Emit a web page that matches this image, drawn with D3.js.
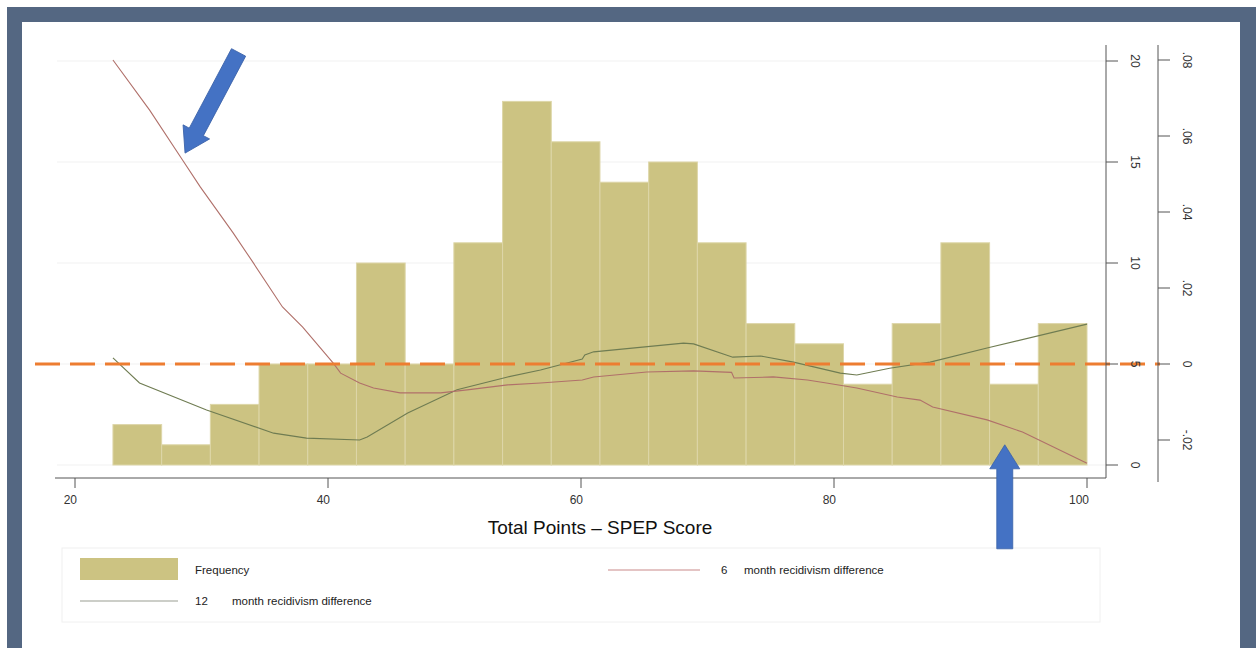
<!DOCTYPE html>
<html>
<head>
<meta charset="utf-8">
<script src="https://cdn.jsdelivr.net/npm/d3@7"></script>
<style>
body { margin: 0; background: #fff; }
text { font-family: "Liberation Sans", Arial, sans-serif; }
</style>
</head>
<body>
<svg width="1256" height="648"></svg>
<script>
var w = 1256, h = 648;

// histogram bins (SPEP score) and counts
var binEdges = [23, 26.85, 30.7, 34.55, 38.4, 42.25, 46.1, 49.95, 53.8, 57.65, 61.5,
  65.35, 69.2, 73.05, 76.9, 80.75, 84.6, 88.45, 92.3, 96.15, 100];
var frequency = [2, 1, 3, 5, 5, 10, 5, 11, 18, 16, 14, 15, 11, 7, 6, 4, 7, 11, 4, 7];

// 6 month recidivism difference (score, value)
var sixScore = [23, 25.9, 28.5, 29.9, 32.5, 34.1, 36.4, 38, 40.4, 41, 42.5, 43.6, 45.7, 48.9,
  51, 54.2, 56.8, 60.1, 61, 65.2, 68.9, 71.9, 72.1, 75.2, 77.9, 79.4, 81.8, 85, 86.8,
  87.8, 92.1, 94.9, 100];
var sixValue = [.08, .0668, .0537, .0466, .0345, .0266, .015, .0097, .0003, -.0024, -.005, -.0063,
  -.0076, -.0076, -.0068, -.0055, -.005, -.0042, -.0034, -.0021, -.0018, -.0022, -.0037,
  -.0034, -.0042, -.005, -.0063, -.0087, -.0095, -.0113, -.0147, -.0179, -.0261];

// 12 month recidivism difference (score, value)
var twelveScore = [23, 25.1, 30.4, 35.7, 38.3, 42.5, 43.1, 46.3, 50.2, 54.2, 56.8, 60.1, 60.3,
  61, 68.1, 68.9, 72, 74.2, 76.8, 80.5, 81.8, 84.4, 87.6, 92.1, 100];
var twelveValue = [.0016, -.005, -.0121, -.0182, -.0195, -.02, -.0192, -.0129, -.0068, -.0034,
  -.0016, .0013, .0024, .0032, .0055, .0053, .0018, .0021, .0005, -.0024, -.0029, -.0011,
  .0005, .0042, .0105];

var xTicks = [20, 40, 60, 80, 100];
var freqTicks = [0, 5, 10, 15, 20];
var diffTicks = [-.02, 0, .02, .04, .06, .08];
var diffLabels = ["-.02", "0", ".02", ".04", ".06", ".08"];

var svg = d3.select("svg");

// slide frame
svg.append("rect").attr("x", 7).attr("y", 7).attr("width", w).attr("height", h)
  .attr("fill", "#546782");
svg.append("rect").attr("x", 22).attr("y", 22).attr("width", 1218).attr("height", h)
  .attr("fill", "#fff");

var x = d3.scaleLinear().domain([20, 100]).range([75, 1087]);
var yF = d3.scaleLinear().domain([0, 20]).range([465, 61]);
var yD = d3.scaleLinear().domain([-.02, .08]).range([440, 60]);

// faint grid
svg.append("g").selectAll("line").data(freqTicks).join("line")
  .attr("x1", 57).attr("x2", 1106)
  .attr("y1", function (d) { return yF(d); }).attr("y2", function (d) { return yF(d); })
  .attr("stroke", "#f2f2f2").attr("stroke-width", 1.2);

// bars
var bins = frequency.map(function (f, i) { return { lo: binEdges[i], hi: binEdges[i + 1], n: f }; });
svg.append("g").selectAll("rect").data(bins).join("rect")
  .attr("x", function (d) { return x(d.lo); })
  .attr("width", function (d) { return x(d.hi) - x(d.lo); })
  .attr("y", function (d) { return yF(d.n); })
  .attr("height", function (d) { return yF(0) - yF(d.n); })
  .attr("fill", "#ccc382").attr("stroke", "#ddd6a8").attr("stroke-width", 1);

var line = d3.line().x(function (d) { return x(d[0]); }).y(function (d) { return yD(d[1]); });

svg.append("path").datum(d3.zip(twelveScore, twelveValue))
  .attr("d", line).attr("fill", "none").attr("stroke", "#6f7c52").attr("stroke-width", 1.1);
svg.append("path").datum(d3.zip(sixScore, sixValue))
  .attr("d", line).attr("fill", "none").attr("stroke", "#b0706a").attr("stroke-width", 1.1);

// zero reference
svg.append("line").attr("x1", 35).attr("x2", 1160).attr("y1", yD(0)).attr("y2", yD(0))
  .attr("stroke", "#ed7d31").attr("stroke-width", 3).attr("stroke-dasharray", "25,10");

// x axis
var xa = svg.append("g").attr("transform", "translate(0,478)");
xa.append("line").attr("x1", 55).attr("x2", 1106).attr("stroke", "#555");
xa.selectAll(".t").data(xTicks).join("line").attr("class", "t")
  .attr("x1", function (d) { return x(d); }).attr("x2", function (d) { return x(d); })
  .attr("y1", 0).attr("y2", 10).attr("stroke", "#555");
xa.selectAll("text").data(xTicks).join("text")
  .attr("x", function (d) { return x(d) + 2; }).attr("y", 26)
  .attr("text-anchor", "end").attr("font-size", 12).attr("fill", "#333")
  .text(function (d) { return d; });

svg.append("text").attr("x", 600).attr("y", 534).attr("text-anchor", "middle")
  .attr("font-size", 19).attr("fill", "#111").text("Total Points – SPEP Score");

// frequency axis (right, inner)
var fa = svg.append("g").attr("transform", "translate(1106,0)");
fa.append("line").attr("y1", 45).attr("y2", 478).attr("stroke", "#555");
fa.selectAll(".t").data(freqTicks).join("line").attr("class", "t")
  .attr("x1", 0).attr("x2", 12)
  .attr("y1", function (d) { return yF(d); }).attr("y2", function (d) { return yF(d); })
  .attr("stroke", "#555");
fa.selectAll("text").data(freqTicks).join("text")
  .attr("transform", function (d) { return "translate(25," + yF(d) + ") rotate(90)"; })
  .attr("text-anchor", "middle").attr("font-size", 12).attr("fill", "#333")
  .text(function (d) { return d; });

// difference axis (right, outer)
var da = svg.append("g").attr("transform", "translate(1158,0)");
da.append("line").attr("y1", 45).attr("y2", 482).attr("stroke", "#555");
da.selectAll(".t").data(diffTicks).join("line").attr("class", "t")
  .attr("x1", 0).attr("x2", 12)
  .attr("y1", function (d) { return yD(d); }).attr("y2", function (d) { return yD(d); })
  .attr("stroke", "#555");
da.selectAll("text").data(diffTicks).join("text")
  .attr("transform", function (d) { return "translate(25," + yD(d) + ") rotate(90)"; })
  .attr("text-anchor", "middle").attr("font-size", 12).attr("fill", "#333")
  .text(function (d, i) { return diffLabels[i]; });

// legend
var lg = svg.append("g");
lg.append("rect").attr("x", 62).attr("y", 548).attr("width", 1038).attr("height", 74)
  .attr("fill", "#fff").attr("stroke", "#f0f0f0");
lg.append("rect").attr("x", 80).attr("y", 558).attr("width", 98).attr("height", 22)
  .attr("fill", "#ccc382");
lg.append("text").attr("x", 195).attr("y", 574).attr("font-size", 11.5).attr("fill", "#222")
  .text("Frequency");
lg.append("line").attr("x1", 608).attr("x2", 700).attr("y1", 570).attr("y2", 570)
  .attr("stroke", "#c98a8a").attr("stroke-width", 1.2);
lg.append("text").attr("x", 721).attr("y", 574).attr("font-size", 11.5).attr("fill", "#222").text("6");
lg.append("text").attr("x", 744).attr("y", 574).attr("font-size", 11.5).attr("fill", "#222")
  .text("month recidivism difference");
lg.append("line").attr("x1", 80).attr("x2", 178).attr("y1", 601).attr("y2", 601)
  .attr("stroke", "#9a9e92").attr("stroke-width", 1.2);
lg.append("text").attr("x", 195).attr("y", 605).attr("font-size", 11.5).attr("fill", "#222").text("12");
lg.append("text").attr("x", 232).attr("y", 605).attr("font-size", 11.5).attr("fill", "#222")
  .text("month recidivism difference");

// blue callout arrows, tip at (tx,ty); shaft runs along +y before rotation
function drawArrow(tx, ty, len, ang) {
  var d = "M0,0 L15,24 L8,24 L8," + len + " L-8," + len + " L-8,24 L-15,24 Z";
  svg.append("path")
    .attr("d", d)
    .attr("transform", "translate(" + tx + "," + ty + ") rotate(" + ang + ")")
    .attr("fill", "#4472c4").attr("stroke", "#3a62a8").attr("stroke-width", 0.8);
}
drawArrow(x(28.7), yD(.0555), 114, 208);
drawArrow(x(93.5), yF(1), 104, 0);
</script>
</body>
</html>
